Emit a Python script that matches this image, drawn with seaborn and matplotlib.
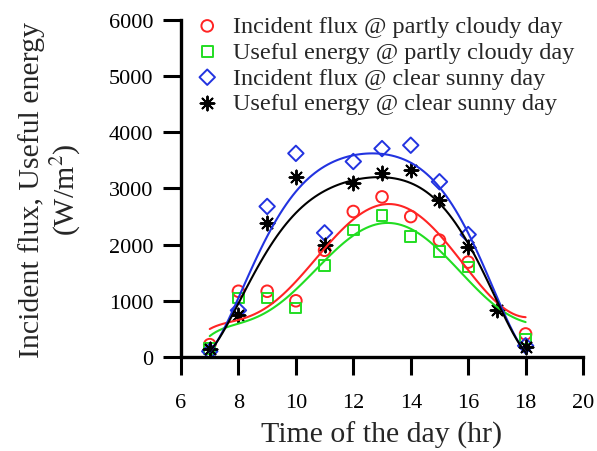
import numpy as np
import pandas as pd
import matplotlib
matplotlib.use("Agg")
import matplotlib.pyplot as plt
import seaborn as sns

# hours of the day
hours = [7, 8, 9, 10, 11, 12, 13, 14, 15, 16, 17, 18]

incident_cloudy = [220, 1170, 1170, 1000, 1900, 2590, 2850, 2500, 2080, 1690, np.nan, 410]
useful_cloudy = [150, 1050, 1050, 870, 1630, 2260, 2520, 2140, 1880, 1600, np.nan, 320]
incident_sunny = [100, 830, 2680, 3625, 2210, 3480, 3710, 3770, 3120, 2180, np.nan, 200]
useful_sunny = [150, 740, 2390, 3210, 1990, 3090, 3270, 3330, 2790, 1960, 830, 180]

# fitted curves as drawn in the reference, W/m2 at each hour
fit_incident_cloudy = [500, 650, 910, 1330, 1920, 2460, 2720, 2610, 2160, 1570, 960, 710]
fit_useful_cloudy = [380, 560, 850, 1210, 1650, 2190, 2400, 2290, 1860, 1390, 890, 620]
fit_incident_sunny = [90, 1050, 2150, 2950, 3380, 3590, 3640, 3450, 2990, 2250, 1050, 90]
fit_useful_sunny = [100, 950, 1900, 2560, 2930, 3170, 3230, 3070, 2690, 2100, 960, 90]

labels = [
    "Incident flux @ partly cloudy day",
    "Useful energy @ partly cloudy day",
    "Incident flux @ clear sunny day",
    "Useful energy @ clear sunny day",
]
colors = ["#ff2424", "#22dd22", "#2233e0", "black"]
markers = ["o", "s", "D", (8, 2, 0)]
sizes = [70, 60, 62, 100]


def make_plot():
    sns.set_style("ticks")
    plt.rcParams["font.family"] = ["Liberation Serif", "DejaVu Serif"]
    plt.rcParams["mathtext.fontset"] = "stix"

    fig = plt.figure(figsize=(5.97, 4.52), dpi=100)
    ax = fig.add_axes([0.3032, 0.208, 0.6734, 0.7456])

    points = [incident_cloudy, useful_cloudy, incident_sunny, useful_sunny]
    fits = [fit_incident_cloudy, fit_useful_cloudy, fit_incident_sunny, fit_useful_sunny]

    # smooth curves: polynomial regression through the read-off curve values
    for fit, col in zip(fits, colors):
        sns.regplot(x=hours, y=fit, order=6, ci=None, scatter=False,
                    color=col, line_kws={"lw": 1.5}, ax=ax)

    for vals, lab, col, mk, sz in zip(points, labels, colors, markers, sizes):
        df = pd.DataFrame({"hour": hours, "value": vals}).dropna()
        if isinstance(mk, tuple):
            sns.scatterplot(data=df, x="hour", y="value", marker=mk, s=sz,
                            color=col, linewidth=1.4, ax=ax, label=lab)
        else:
            sns.scatterplot(data=df, x="hour", y="value", marker=mk, s=sz,
                            facecolors="none", edgecolor=col, linewidth=1.4,
                            ax=ax, label=lab)

    ax.set_xlim(6, 20)
    ax.set_ylim(0, 6000)
    ax.set_xticks(range(6, 21, 2))
    ax.set_yticks(range(0, 6001, 1000))
    ax.tick_params(labelsize=16, width=2.2, length=13, direction="out",
                   colors="black")
    ax.tick_params(axis="x", pad=13)
    ax.tick_params(axis="y", pad=7)
    for side in ["left", "bottom"]:
        ax.spines[side].set_linewidth(2.4)
        ax.spines[side].set_color("black")
    sns.despine(ax=ax)

    ax.set_xlabel("Time of the day (hr)", fontsize=21.5, labelpad=6)
    ax.set_ylabel("Incident flux, Useful energy\n(W/m$^2$)", fontsize=21.5,
                  linespacing=1.15)
    ax.yaxis.set_label_coords(-0.245, 0.5)

    ax.legend(loc="upper left", frameon=False, fontsize=17.5,
              handletextpad=0.55, borderaxespad=0.0, labelspacing=0.15,
              borderpad=0.0, handlelength=1.0, bbox_to_anchor=(0.035, 1.014))

    fig.savefig("out.png", dpi=100)
    plt.close(fig)


if __name__ == "__main__":
    make_plot()
